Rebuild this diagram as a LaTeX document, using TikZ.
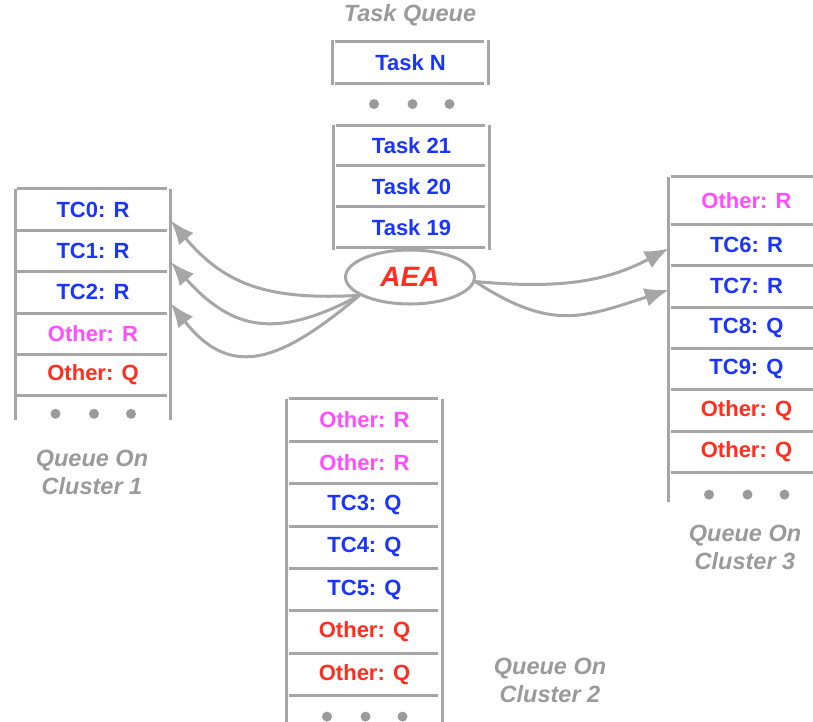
\documentclass[tikz,border=0pt]{standalone}
\usepackage{fontspec}
\setmainfont{Liberation Sans}
\usetikzlibrary{positioning,arrows.meta,shapes.geometric}
\definecolor{qline}{HTML}{A6A6A6}
\definecolor{qgray}{HTML}{9A9A9A}
\definecolor{tcblue}{HTML}{1A35FF}
\definecolor{othpink}{HTML}{FF4DFF}
\definecolor{othred}{HTML}{FF2E1F}
\tikzset{>={Latex[length=24pt,width=19pt]}}
\tikzset{
  cell/.style={minimum width=155pt, inner sep=0pt,
    font=\fontsize{22}{26}\selectfont\bfseries},
  tc/.style={cell, text=tcblue},
  otr/.style={cell, text=othpink},
  otq/.style={cell, text=othred},
  rule/.style={draw=qline, line width=3pt},
  link/.style={draw=qline, line width=3pt, -{Latex[length=24pt,width=19pt]}},
  qlabel/.style={text=qgray, align=center,
    font=\fontsize{23.5}{28}\selectfont\bfseries\itshape},
}
\begin{document}
\begin{tikzpicture}[x=1pt, y=1pt]
  \useasboundingbox (0,0) rectangle (813,-721);

  % Task queue
  \node[qlabel] (tqlabel) at (410,-15) {Task Queue};
  \node[tc, minimum height=41pt] (taskn) at (410.5,-62.5) {Task N};
  \begin{scope}[nodes={minimum height=40.5pt}]
    \node[tc] (task21) at (411.5,-145.5) {Task 21};
    \node[tc, below=0pt of task21] (task20) {Task 20};
    \node[tc, below=0pt of task20] (task19) {Task 19};
  \end{scope}
  \coordinate[above=21pt of task21.north] (tqdots);

  % AEA
  \node[ellipse, draw=qline, line width=3pt, minimum width=129pt,
    minimum height=54pt, inner sep=0pt, text=othred,
    font=\fontsize{28}{32}\selectfont\bfseries\itshape] (aea) at (410,-277) {AEA};

  % Queue on cluster 1
  \begin{scope}[nodes={minimum height=41pt}]
    \node[tc] (tc0) at (93,-209.5) {TC0: R};
    \node[tc, below=0pt of tc0] (tc1) {TC1: R};
    \node[tc, below=0pt of tc1] (tc2) {TC2: R};
    \node[otr, below=0pt of tc2] (c1otr) {Other: R};
    \node[otq, below=0pt of c1otr] (c1otq) {Other: Q};
  \end{scope}
  \coordinate[below=18pt of c1otq.south] (c1dots);
  \node[qlabel] (c1label) at (92,-472) {Queue On\\Cluster 1};

  % Queue on cluster 2
  \begin{scope}[nodes={minimum height=42pt}]
    \node[otr] (c2otr1) at (364.5,-420) {Other: R};
    \node[otr, below=0pt of c2otr1] (c2otr2) {Other: R};
    \node[tc, below=0pt of c2otr2] (tc3) {TC3: Q};
    \node[tc, below=0pt of tc3] (tc4) {TC4: Q};
    \node[tc, below=0pt of tc4] (tc5) {TC5: Q};
    \node[otq, below=0pt of tc5] (c2otq1) {Other: Q};
    \node[otq, below=0pt of c2otq1] (c2otq2) {Other: Q};
  \end{scope}
  \coordinate[below=21pt of c2otq2.south] (c2dots);
  \node[qlabel] (c2label) at (550,-680) {Queue On\\Cluster 2};

  % Queue on cluster 3
  \begin{scope}[nodes={minimum height=41pt}]
    \node[otr, minimum height=47pt] (c3otr) at (746.5,-200.5) {Other: R};
    \node[tc, below=0pt of c3otr] (tc6) {TC6: R};
    \node[tc, below=0pt of tc6] (tc7) {TC7: R};
    \node[tc, below=0pt of tc7] (tc8) {TC8: Q};
    \node[tc, below=0pt of tc8] (tc9) {TC9: Q};
    \node[otq, below=0pt of tc9] (c3otq1) {Other: Q};
    \node[otq, below=0pt of c3otq1] (c3otq2) {Other: Q};
  \end{scope}
  \coordinate[below=22pt of c3otq2.south] (c3dots);
  \node[qlabel] (c3label) at (745,-547) {Queue On\\Cluster 3};

  % Queue walls
  \draw[rule] ([yshift=2pt]taskn.north west) -- ([yshift=-2pt]taskn.south west);
  \draw[rule] ([yshift=2pt]taskn.north east) -- ([yshift=-2pt]taskn.south east);
  \draw[rule] (task21.north west) -- ([yshift=-2pt]task19.south west);
  \draw[rule] (task21.north east) -- ([yshift=-2pt]task19.south east);
  \draw[rule] (tc0.north west) -- ([yshift=-24pt]c1otq.south west);
  \draw[rule] (tc0.north east) -- ([yshift=-24pt]c1otq.south east);
  \draw[rule] (c2otr1.north west) -- ([yshift=-40pt]c2otq2.south west);
  \draw[rule] (c2otr1.north east) -- ([yshift=-40pt]c2otq2.south east);
  \draw[rule] (c3otr.north west) -- ([yshift=-29pt]c3otq2.south west);
  \draw[rule] (c3otr.north east) -- ([yshift=-29pt]c3otq2.south east);

  % Queue rows
  \foreach \n in {taskn,task21,tc0,c2otr1,c3otr}
    \draw[rule] ([xshift=2pt]\n.north west) -- ([xshift=-4pt]\n.north east);
  \foreach \n in {taskn,task21,task20,task19,tc0,tc1,tc2,c1otr,c1otq,
      c2otr1,c2otr2,tc3,tc4,tc5,c2otq1,c2otq2,
      c3otr,tc6,tc7,tc8,tc9,c3otq1,c3otq2}
    \draw[rule] ([xshift=2pt]\n.south west) -- ([xshift=-4pt]\n.south east);

  % Dots
  \foreach \d in {tqdots,c1dots,c2dots,c3dots}
    \foreach \dx in {-37.5,1,38}
      \fill[qgray] ([xshift=\dx pt]\d) circle (5pt);

  % Edges
  \draw[link] (aea.200) to[out=183, in=-50, looseness=1.1] ([yshift=-11pt]tc0.east);
  \draw[link] (aea.200) to[out=208, in=-48, looseness=1.25] ([yshift=-11pt]tc1.east);
  \draw[link] (aea.200) to[out=220, in=-52, looseness=1.35] ([yshift=-11pt]tc2.east);
  \draw[link] (aea.-4) to[out=-5, in=208] ([yshift=-3.5pt]tc6.west);
  \draw[link] (aea.-4) to[out=-33, in=198, looseness=1.2] ([yshift=-3.5pt]tc7.west);
\end{tikzpicture}
\end{document}
